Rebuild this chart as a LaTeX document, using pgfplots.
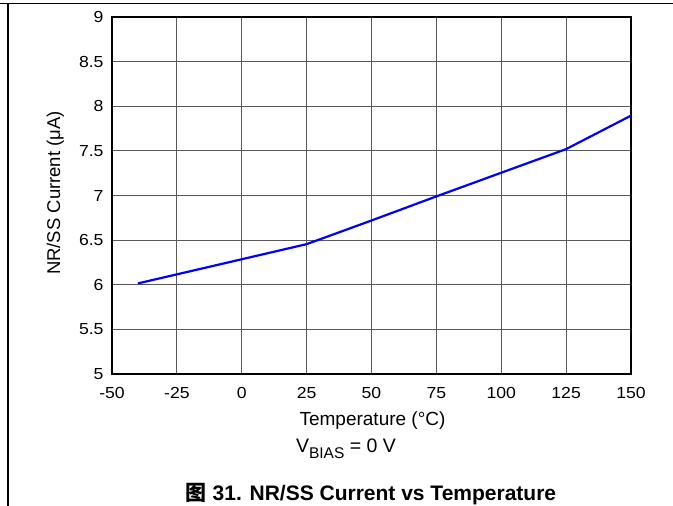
\documentclass[border=0pt]{standalone}
\usepackage{pgfplots}
\pgfplotsset{compat=1.18}
\usepackage{fontspec}
\setmainfont{Liberation Sans}[FakeStretch=1.1]
\newfontfamily\labfont{Liberation Sans}
\newfontfamily\cjk{Noto Sans CJK SC}

\begin{document}
\begin{tikzpicture}[x=1pt,y=1pt]
\useasboundingbox (0,0) rectangle (673,-506);
% outer frame (top and left only)
\draw[line width=1.2pt] (0,-3.8) -- (673,-3.8);
\draw[line width=1.2pt] (8,-3.8) -- (8,-506);

\begin{axis}[
    at={(112pt,-374pt)}, anchor=south west,
    scale only axis,
    width=519pt, height=357pt,
    xmin=-50, xmax=150,
    ymin=5, ymax=9,
    xtick={-50,-25,0,25,50,75,100,125,150},
    ytick={5,5.5,6,6.5,7,7.5,8,8.5,9},
    grid=major,
    major grid style={black!65, line width=0.9pt},
    axis line style={line width=2.4pt},
    major tick length=0pt,
    tick label style={font=\fontsize{16}{19}\selectfont},
    xticklabel style={yshift=-10pt},
    yticklabel style={xshift=-5pt},
    /pgf/number format/assume math mode=true,
    clip=false,
]
\addplot[color=blue, line width=2.2pt] coordinates {
    (-40,6.015) (25,6.455) (50,6.72) (75,6.99) (100,7.255) (125,7.52) (150,7.895)
};
\end{axis}

\node[rotate=90, anchor=base, font=\labfont\fontsize{18.5}{22}\selectfont] at (60,-193) {NR/SS Current (μA)};
\node[anchor=base, font=\labfont\fontsize{19}{22}\selectfont] at (372.5,-425) {Temperature (°C)};
\node[anchor=base, font=\labfont\fontsize{19.5}{22}\selectfont] at (346,-452) {V\raisebox{-6pt}{\fontsize{15.5}{18}\selectfont BIAS} = 0 V};
\node[anchor=base, font=\labfont\fontsize{21}{24}\selectfont\bfseries] at (371,-500) {{\cjk\bfseries 图} 31. NR/SS Current vs Temperature};
\end{tikzpicture}
\end{document}
